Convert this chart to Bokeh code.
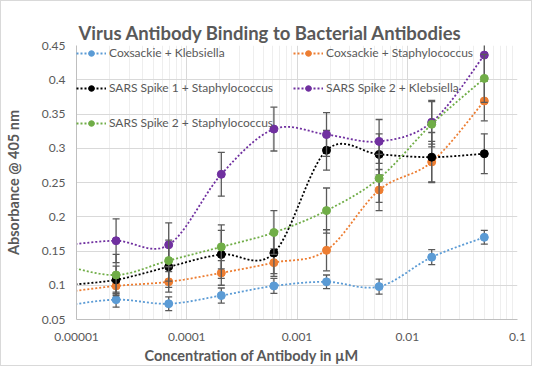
import numpy as np
from bokeh.plotting import figure
from bokeh.models import (FixedTicker, NumeralTickFormatter, Legend, LegendItem,
                          Title, Range1d)
from bokeh.embed import file_html
from bokeh.resources import INLINE

# ---------------- data ----------------
concentration = [7.62e-6, 2.286e-5, 6.859e-5, 2.058e-4, 6.173e-4,
                 1.852e-3, 5.556e-3, 1.6667e-2, 5.0e-2]

series_names = ["Coxsackie + Klebsiella", "Coxsackie + Staphylococcus",
                "SARS Spike 1 + Staphylococcus", "SARS Spike 2 + Klebsiella",
                "SARS Spike 2 + Staphylococcus"]

cox_kleb = [0.0697, 0.079, 0.073, 0.085, 0.099, 0.105, 0.098, 0.141, 0.170]
cox_staph = [0.0897, 0.099, 0.105, 0.118, 0.133, 0.151, 0.239, 0.280, 0.369]
sars1_staph = [0.0998, 0.108, 0.127, 0.145, 0.147, 0.297, 0.291, 0.287, 0.292]
sars2_kleb = [0.158, 0.165, 0.159, 0.262, 0.328, 0.320, 0.310, 0.338, 0.436]
sars2_staph = [0.129, 0.115, 0.136, 0.156, 0.177, 0.209, 0.256, 0.335, 0.402]

cox_kleb_err = [0.010, 0.011, 0.010, 0.011, 0.011, 0.010, 0.011, 0.011, 0.010]
cox_staph_err = [0.012, 0.012, 0.015, 0.018, 0.020, 0.030, 0.030, 0.030, 0.029]
sars1_staph_err = [0.020, 0.020, 0.030, 0.035, 0.030, 0.029, 0.030, 0.036, 0.029]
sars2_kleb_err = [0.032, 0.032, 0.032, 0.032, 0.032, 0.032, 0.032, 0.032, 0.032]
sars2_staph_err = [0.030, 0.030, 0.030, 0.032, 0.032, 0.033, 0.035, 0.033, 0.035]

x_ticks = [0.00001, 0.0001, 0.001, 0.01, 0.1]
y_ticks = [0.05, 0.1, 0.15, 0.2, 0.25, 0.3, 0.35, 0.4, 0.45]

colors = ["#5B9BD5", "#ED7D31", "#000000", "#7030A0", "#70AD47"]

values = [cox_kleb, cox_staph, sars1_staph, sars2_kleb, sars2_staph]
errors = [cox_kleb_err, cox_staph_err, sars1_staph_err, sars2_kleb_err, sars2_staph_err]

FONT = "Lato"
GREY = "#595959"


def smooth(xs, ys, n=24):
    """Excel-like smoothed line (Catmull-Rom / Bezier) in log-x space."""
    P = np.column_stack([np.log10(np.asarray(xs, float)), np.asarray(ys, float)])
    out = []
    m = len(P)
    for i in range(m - 1):
        p0 = P[i - 1] if i > 0 else P[i]
        p1, p2 = P[i], P[i + 1]
        p3 = P[i + 2] if i + 2 < m else P[i + 1]
        b1 = p1 + (p2 - p0) / 6.0
        b2 = p2 - (p3 - p1) / 6.0
        t = np.linspace(0, 1, n, endpoint=(i == m - 2))[:, None]
        pts = ((1 - t) ** 3) * p1 + 3 * ((1 - t) ** 2) * t * b1 + 3 * (1 - t) * (t ** 2) * b2 + (t ** 3) * p2
        out.append(pts)
    pts = np.vstack(out)
    return 10 ** pts[:, 0], pts[:, 1]


p = figure(width=532, height=366, x_axis_type="log",
           x_range=Range1d(x_ticks[0], x_ticks[-1]),
           y_range=Range1d(y_ticks[0], y_ticks[-1]),
           output_backend="svg", toolbar_location=None,
           min_border_left=72, min_border_right=16,
           min_border_top=44, min_border_bottom=48)

p.styles = {"border": "1px solid #d9d9d9"}
p.outline_line_color = None
p.background_fill_color = "white"
p.border_fill_color = "white"

# title
p.title.text = "Virus Antibody Binding to Bacterial Antibodies"
p.title.text_font = FONT
p.title.text_font_size = "18.5px"
p.title.text_font_style = "bold"
p.title.text_color = GREY
p.title.align = "left"
p.title.offset = 2
p.title.standoff = 4

# axes
minor = [k * 10.0 ** d for d in range(-5, -1) for k in range(2, 10)]
p.xaxis.ticker = FixedTicker(ticks=x_ticks, minor_ticks=minor)
p.xaxis.formatter = NumeralTickFormatter(format="0.[00000]")
p.yaxis.ticker = FixedTicker(ticks=y_ticks)
p.yaxis.formatter = NumeralTickFormatter(format="0.0[0]")

for ax in (p.xaxis, p.yaxis):
    ax.axis_line_color = "#bfbfbf"
    ax.major_tick_out = 0
    ax.major_tick_in = 0
    ax.minor_tick_out = 0
    ax.minor_tick_in = 0
    ax.major_label_text_font = FONT
    ax.major_label_text_font_size = "12px"
    ax.major_label_text_color = GREY

p.xaxis.major_label_standoff = 13
p.yaxis.major_label_standoff = 11

p.yaxis.axis_label = "Absorbance @ 405 nm"
p.yaxis.axis_label_text_font = FONT
p.yaxis.axis_label_text_font_size = "14.5px"
p.yaxis.axis_label_text_font_style = "bold"
p.yaxis.axis_label_text_color = GREY
p.yaxis.axis_label_standoff = 17

p.xgrid.grid_line_color = "#d9d9d9"
p.xgrid.minor_grid_line_color = "#eeeeee"
p.ygrid.grid_line_color = "#d9d9d9"

# series
items = []
for name, vals, errs, col in zip(series_names, values, errors, colors):
    lo = [v - e for v, e in zip(vals, errs)]
    hi = [v + e for v, e in zip(vals, errs)]
    p.segment(x0=concentration, y0=lo, x1=concentration, y1=hi,
              line_color="#5a5a5a", line_width=1.3)
    p.scatter(concentration, lo, marker="dash", size=7, line_color="#5a5a5a", line_width=1.3)
    p.scatter(concentration, hi, marker="dash", size=7, line_color="#5a5a5a", line_width=1.3)
    sx, sy = smooth(concentration, vals)
    lr = p.line(sx, sy, line_color=col, line_width=1.8, line_dash="2 2")
    sr = p.scatter(concentration, vals, marker="circle", size=8,
                   fill_color=col, line_color=col)
    items.append(LegendItem(label=name, renderers=[lr, sr]))

legend = Legend(items=items, location="top_left", orientation="horizontal", ncols=2,
                background_fill_alpha=0, border_line_color=None,
                padding=0, margin=0, spacing=20,
                glyph_width=30, glyph_height=14, label_height=14, label_standoff=3,
                label_text_font=FONT, label_text_font_size="12px",
                label_text_color=GREY)
p.add_layout(legend)

# x-axis title (Excel places it left of the plot-area centre)
xtitle = Title(text="Concentration of Antibody in µM", align="left", offset=68,
               standoff=2, text_font=FONT, text_font_size="14.5px",
               text_font_style="bold", text_color=GREY)
p.add_layout(xtitle, "below")

open("out.html", "w").write(file_html(p, INLINE))
